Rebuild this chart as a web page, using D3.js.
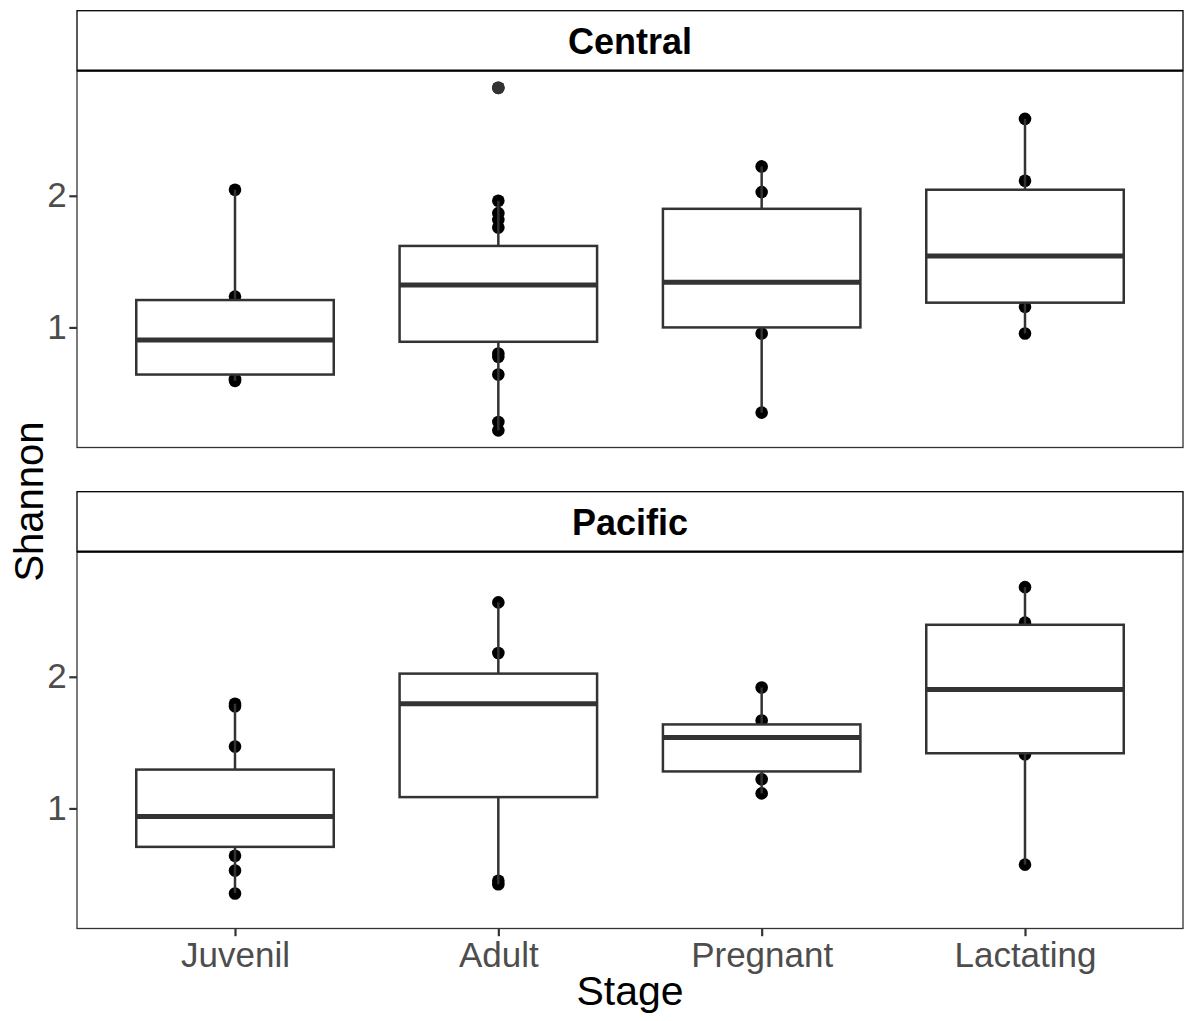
<!DOCTYPE html>
<html>
<head>
<meta charset="utf-8">
<script src="https://cdn.jsdelivr.net/npm/d3@7"></script>
<style>
  body { margin: 0; background: #fff; }
  svg { display: block; font-family: "Liberation Sans", Arial, Helvetica, sans-serif; }
</style>
</head>
<body>
<div id="chart"></div>
<script>
// categories
const stages = ["Juvenil", "Adult", "Pregnant", "Lactating"];
const regions = ["Central", "Pacific"];
const yTicks = [1, 2];

// box stats (per stage)
const centralLow = [0.594, 0.218, 0.353, 0.954];
const centralQ1 = [0.642, 0.891, 1.000, 1.188];
const centralMed = [0.904, 1.322, 1.343, 1.543];
const centralQ3 = [1.208, 1.619, 1.901, 2.046];
const centralHigh = [2.046, 1.962, 2.223, 2.584];
const centralOutliers = [[], [2.820], [], []];
const centralPoints = [
    [2.046, 1.234, 0.608, 0.594],
    [2.820, 1.962, 1.868, 1.817, 1.759, 0.802, 0.777, 0.642, 0.282, 0.218],
    [2.223, 2.028, 0.954, 0.353],
    [2.584, 2.114, 1.157, 0.954]
];

const pacificLow = [0.357, 0.424, 1.114, 0.573];
const pacificQ1 = [0.708, 1.086, 1.281, 1.419];
const pacificMed = [0.938, 1.795, 1.538, 1.903];
const pacificQ3 = [1.295, 2.024, 1.638, 2.395];
const pacificHigh = [1.795, 2.565, 1.919, 2.681];
const pacificOutliers = [[], [], [], []];
const pacificPoints = [
    [1.795, 1.776, 1.470, 0.641, 0.528, 0.354],
    [2.565, 2.181, 0.451, 0.424],
    [1.919, 1.668, 1.222, 1.114],
    [2.681, 2.411, 1.411, 0.573]
];

function buildBoxes(low, q1, med, q3, high, outliers, points) {
    return stages.map((s, i) => ({
        stage: s, low: low[i], q1: q1[i], med: med[i], q3: q3[i], high: high[i],
        outliers: outliers[i], points: points[i]
    }));
}

const panels = [
    { name: regions[0], boxes: buildBoxes(centralLow, centralQ1, centralMed, centralQ3, centralHigh, centralOutliers, centralPoints) },
    { name: regions[1], boxes: buildBoxes(pacificLow, pacificQ1, pacificMed, pacificQ3, pacificHigh, pacificOutliers, pacificPoints) }
];

const width = 1184, height = 1021;
const left = 77, right = 1183;
const stripH = 60;
const panelTops = [10.7, 491.7];   // top of each strip
const panelH = 376.8;
const lineW = 2.5;

const svg = d3.select("#chart").append("svg")
    .attr("width", width)
    .attr("height", height);

// shared y range with ggplot-style 5% expansion
const allVals = panels.flatMap(p => p.boxes.flatMap(b => [b.low, b.high, ...b.outliers, ...b.points]));
const [ymin, ymax] = d3.extent(allVals);
const pad = (ymax - ymin) * 0.05;

const x = d3.scalePoint()
    .domain(stages)
    .range([left, right])
    .padding(0.6);
const boxW = x.step() * 0.75;

panels.forEach((p, pi) => {
    const stripTop = panelTops[pi];
    const top = stripTop + stripH;
    const bottom = top + panelH;

    const y = d3.scaleLinear()
        .domain([ymin - pad, ymax + pad])
        .range([bottom, top]);

    const g = svg.append("g");

    // strip
    g.append("rect")
        .attr("x", left).attr("y", stripTop)
        .attr("width", right - left).attr("height", stripH)
        .attr("fill", "#fff").attr("stroke", "#000").attr("stroke-width", 1.3);
    g.append("text")
        .attr("x", (left + right) / 2)
        .attr("y", stripTop + stripH / 2 + 12.8)
        .attr("text-anchor", "middle")
        .attr("font-size", "36px")
        .attr("font-weight", "bold")
        .attr("fill", "#000")
        .text(p.name);

    // panel background
    g.append("rect")
        .attr("x", left).attr("y", top)
        .attr("width", right - left).attr("height", panelH)
        .attr("fill", "#fff");

    // raw points first, boxes cover them
    g.append("g").selectAll("circle")
        .data(p.boxes.flatMap(b => b.points.map(v => ({ stage: b.stage, v: v }))))
        .enter().append("circle")
        .attr("cx", d => x(d.stage))
        .attr("cy", d => y(d.v))
        .attr("r", 6.3)
        .attr("fill", "#000");

    const box = g.append("g").selectAll("g")
        .data(p.boxes)
        .enter().append("g");

    box.append("line")
        .attr("x1", d => x(d.stage)).attr("x2", d => x(d.stage))
        .attr("y1", d => y(d.q3)).attr("y2", d => y(d.high))
        .attr("stroke", "#333").attr("stroke-width", lineW);
    box.append("line")
        .attr("x1", d => x(d.stage)).attr("x2", d => x(d.stage))
        .attr("y1", d => y(d.q1)).attr("y2", d => y(d.low))
        .attr("stroke", "#333").attr("stroke-width", lineW);
    box.append("rect")
        .attr("x", d => x(d.stage) - boxW / 2)
        .attr("y", d => y(d.q3))
        .attr("width", boxW)
        .attr("height", d => y(d.q1) - y(d.q3))
        .attr("fill", "#fff")
        .attr("stroke", "#333").attr("stroke-width", lineW);
    box.append("line")
        .attr("x1", d => x(d.stage) - boxW / 2).attr("x2", d => x(d.stage) + boxW / 2)
        .attr("y1", d => y(d.med)).attr("y2", d => y(d.med))
        .attr("stroke", "#333").attr("stroke-width", lineW * 2);

    // outliers drawn by the boxplot layer
    box.selectAll(".outlier")
        .data(d => d.outliers.map(v => ({ stage: d.stage, v: v })))
        .enter().append("circle")
        .attr("class", "outlier")
        .attr("cx", d => x(d.stage))
        .attr("cy", d => y(d.v))
        .attr("r", 6.3)
        .attr("fill", "#333");

    // panel border
    g.append("rect")
        .attr("x", left).attr("y", top)
        .attr("width", right - left).attr("height", panelH)
        .attr("fill", "none").attr("stroke", "#333").attr("stroke-width", 1.3);
    g.append("line")
        .attr("x1", left).attr("x2", right)
        .attr("y1", top).attr("y2", top)
        .attr("stroke", "#000").attr("stroke-width", 2.2);

    // y axis
    const yAxis = g.append("g")
        .attr("transform", `translate(${left},0)`)
        .call(d3.axisLeft(y).tickValues(yTicks).tickFormat(d3.format("d")).tickSize(7.7).tickPadding(2.6));
    yAxis.select(".domain").remove();
    yAxis.selectAll(".tick line").attr("stroke", "#333").attr("stroke-width", 2.2);
    yAxis.selectAll(".tick text")
        .attr("font-size", "35px")
        .attr("fill", "#4d4d4d")
        .attr("font-family", "'Liberation Sans', Arial, sans-serif");

    // x axis only under bottom panel
    if (pi === panels.length - 1) {
        const xAxis = g.append("g")
            .attr("transform", `translate(0,${bottom})`)
            .call(d3.axisBottom(x).tickSize(7.7).tickPadding(6.4));
        xAxis.select(".domain").remove();
        xAxis.selectAll(".tick line").attr("stroke", "#333").attr("stroke-width", 2.2);
        xAxis.selectAll(".tick text")
            .attr("font-size", "35px")
            .attr("fill", "#4d4d4d")
            .attr("font-family", "'Liberation Sans', Arial, sans-serif");
    }
});

// axis titles
svg.append("text")
    .attr("x", (left + right) / 2)
    .attr("y", 1005)
    .attr("text-anchor", "middle")
    .attr("font-size", "41px")
    .attr("fill", "#000")
    .text("Stage");

svg.append("text")
    .attr("transform", "translate(43,501.5) rotate(-90)")
    .attr("text-anchor", "middle")
    .attr("font-size", "40px")
    .attr("fill", "#000")
    .text("Shannon");
</script>
</body>
</html>
